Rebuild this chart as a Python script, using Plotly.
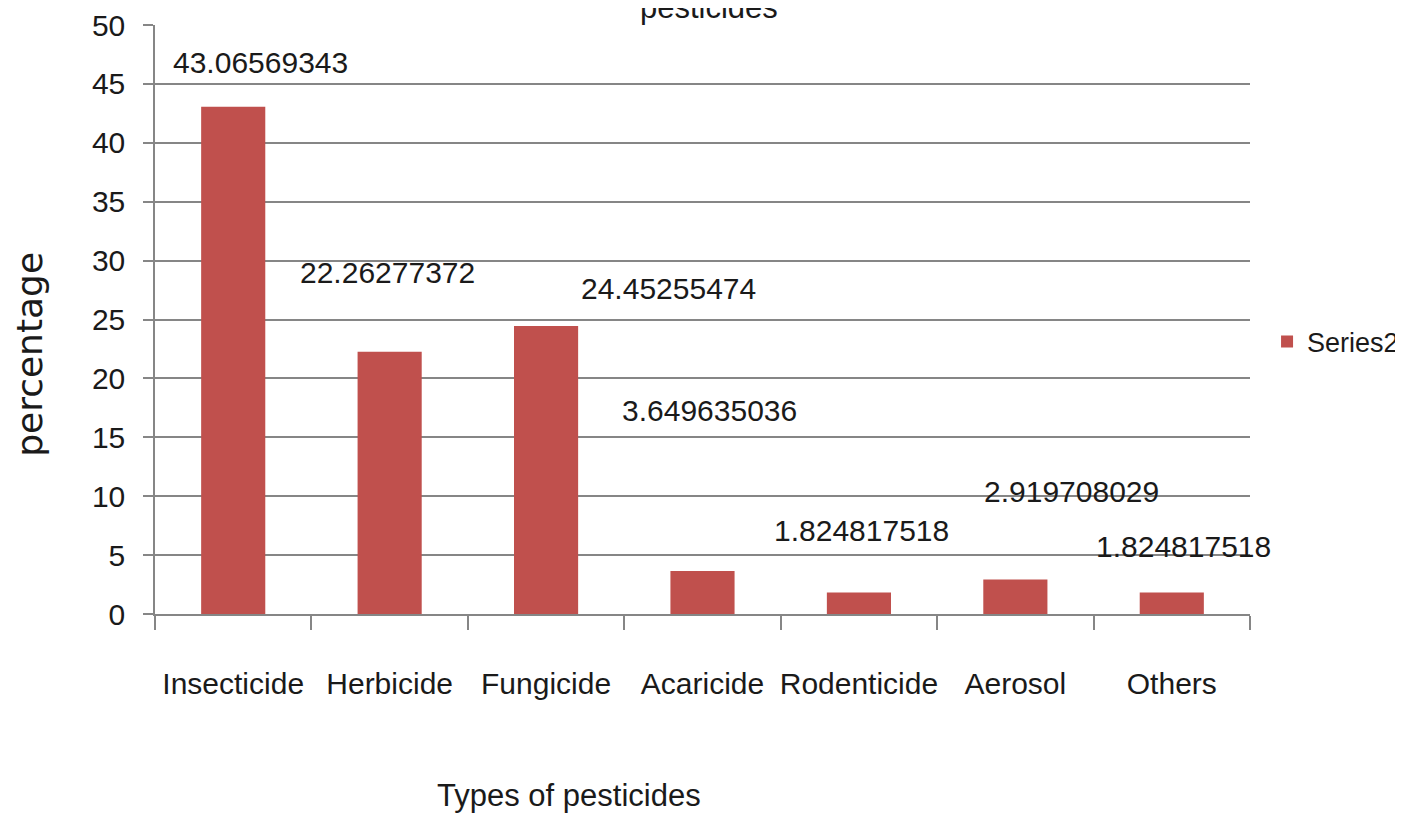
import plotly.graph_objects as go

categories = ["Insecticide", "Herbicide", "Fungicide", "Acaricide", "Rodenticide", "Aerosol", "Others"]
values = [43.06569343, 22.26277372, 24.45255474, 3.649635036, 1.824817518, 2.919708029, 1.824817518]
value_labels = ["43.06569343", "22.26277372", "24.45255474", "3.649635036", "1.824817518", "2.919708029", "1.824817518"]
y_ticks = [0, 5, 10, 15, 20, 25, 30, 35, 40, 45, 50]

# pixel offsets of the (manually placed) data labels relative to the bar tops
label_xshift = [27, -2, 122, 7, 3, 56, 12]
label_yshift = [44, 79, 37, 161, 62, 88, 46]

FONT = "Liberation Sans, Arial, sans-serif"
TXT = "#1a1a1a"
GRID = "#868686"

fig = go.Figure()
fig.add_trace(go.Bar(
    x=categories, y=values, name="Series2",
    marker=dict(color="#C0504D", line=dict(width=0)),
))

for i, (v, t) in enumerate(zip(values, value_labels)):
    fig.add_annotation(
        x=categories[i], y=v, xref="x", yref="y", text=t, showarrow=False,
        xshift=label_xshift[i], yshift=label_yshift[i],
        font=dict(family=FONT, size=30, color=TXT),
    )

# chart title (cut off at the top edge, as in the original)
fig.add_annotation(
    x=0.506, y=1.0, xref="paper", yref="paper", text="pesticides", showarrow=False,
    yanchor="bottom", yshift=-2, font=dict(family=FONT, size=31, color=TXT),
)
# axis titles
fig.add_annotation(
    x=0.378, y=0, xref="paper", yref="paper", text="Types of pesticides", showarrow=False,
    yanchor="middle", yshift=-181, font=dict(family=FONT, size=31, color=TXT),
)
fig.add_annotation(
    x=0, y=0.44, xref="paper", yref="paper", text="percentage", showarrow=False,
    textangle=-90, xanchor="center", yanchor="middle", xshift=-125,
    font=dict(family="DejaVu Sans", size=36, color=TXT),
)

fig.update_layout(
    width=1403, height=816,
    margin=dict(l=147, r=161, t=17, b=210, autoexpand=False),
    plot_bgcolor="white", paper_bgcolor="white",
    bargap=0.59,
    showlegend=True,
    legend=dict(xref="container", x=0.8974, y=0.462, xanchor="left", yanchor="middle",
                font=dict(family=FONT, size=27, color=TXT),
                itemsizing="constant", bgcolor="rgba(0,0,0,0)"),
    xaxis=dict(
        automargin=False, tickangle=0, range=[-0.5, len(categories) - 0.5],
        showline=True, linecolor=GRID, linewidth=1.5,
        ticks="outside", tickson="boundaries", ticklen=14, tickcolor=GRID, tickwidth=1.5,
        ticklabelstandoff=42,
        tickfont=dict(family=FONT, size=30, color=TXT),
        showgrid=False,
    ),
    yaxis=dict(
        automargin=False,
        range=[0, 50], tickvals=y_ticks, showline=True, linecolor=GRID, linewidth=1.5,
        ticks="outside", ticklen=10, tickcolor=GRID, tickwidth=1.5,
        ticklabelstandoff=12,
        showgrid=True, gridcolor=GRID, gridwidth=1.5, zeroline=False,
        tickfont=dict(family=FONT, size=30, color=TXT),
    ),
)

fig.write_html("out.html")
